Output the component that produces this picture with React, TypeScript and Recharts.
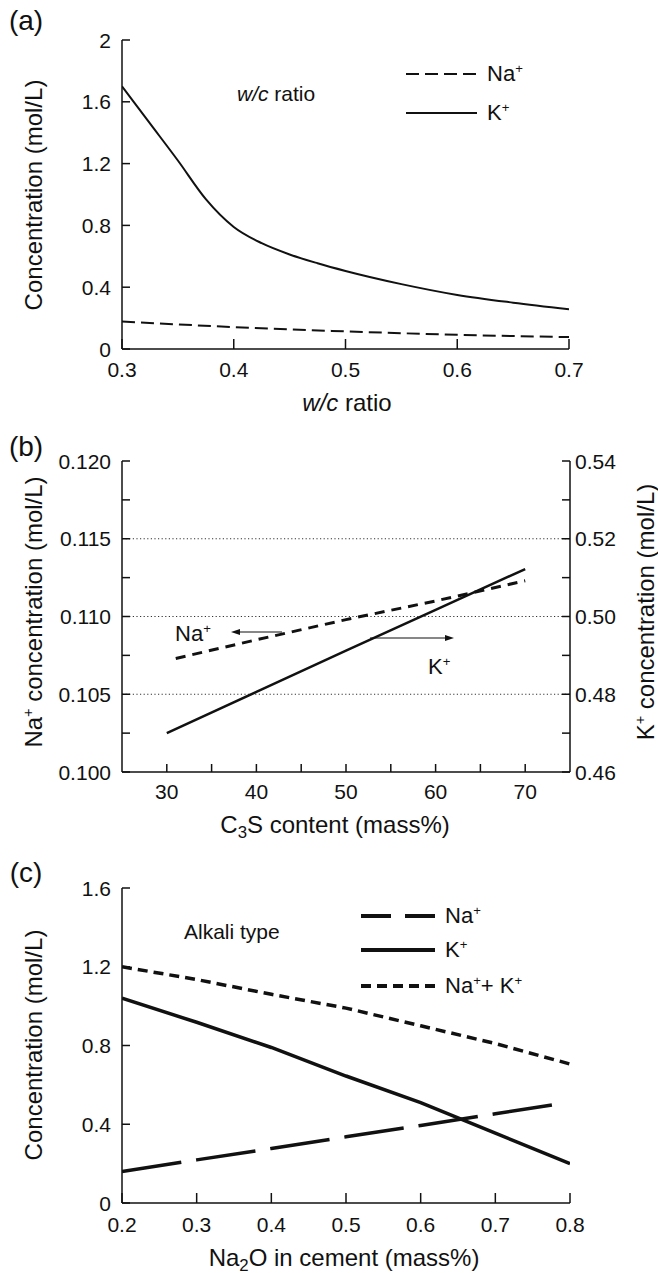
import React from 'react'
import { LineChart, Line, XAxis, YAxis, ReferenceLine } from 'recharts'

const FONT = '"Liberation Sans", Arial, Helvetica, sans-serif'
const INK = '#111'

// (a) w/c ratio
const wcRatio = [0.3, 0.325, 0.35, 0.375, 0.4, 0.425, 0.45, 0.475, 0.5, 0.55, 0.6, 0.65, 0.7]
const wcK = [1.7, 1.46, 1.22, 0.97, 0.79, 0.685, 0.612, 0.555, 0.505, 0.42, 0.35, 0.3, 0.258]
const wcNaRatio = [0.3, 0.4, 0.5, 0.6, 0.7]
const wcNa = [0.178, 0.142, 0.114, 0.092, 0.077]
const wcTicksX = [0.3, 0.4, 0.5, 0.6, 0.7]
const wcTicksY = [0, 0.4, 0.8, 1.2, 1.6, 2]

// (b) C3S content
const c3s = [30, 40, 50, 60, 70]
const c3sK = [0.47, 0.4806, 0.4912, 0.5017, 0.5122]
const c3sNaX = [31, 40, 50, 60, 70]
const c3sNa = [0.1073, 0.1085, 0.1098, 0.111, 0.1123]
const c3sTicks = [30, 35, 40, 45, 50, 55, 60, 65, 70]
const naTicks = [0.1, 0.1025, 0.105, 0.1075, 0.11, 0.1125, 0.115, 0.1175, 0.12]
const kTicks = [0.46, 0.47, 0.48, 0.49, 0.5, 0.51, 0.52, 0.53, 0.54]
const naGrid = [0.105, 0.11, 0.115]

// (c) Na2O in cement
const na2o = [0.2, 0.3, 0.4, 0.5, 0.6, 0.7, 0.8]
const na2oK = [1.04, 0.918, 0.79, 0.645, 0.51, 0.355, 0.2]
const na2oSum = [1.2, 1.135, 1.06, 0.99, 0.9, 0.81, 0.706]
const na2oNaX = [0.2, 0.3, 0.4, 0.5, 0.6, 0.7, 0.78]
const na2oNa = [0.16, 0.219, 0.277, 0.336, 0.394, 0.453, 0.5]
const na2oTicksY = [0, 0.4, 0.8, 1.2, 1.6]

const pts = (xs: number[], ys: number[]) => xs.map((x, i) => ({ x, y: ys[i] }))

const AX = { stroke: INK, strokeWidth: 1.5 }
const TICK_FS = 21
const f1 = (v: number) => (v === 0 || v === 2 ? String(v) : v.toFixed(1))

// inward tick mark + label; m is the gap recharts leaves between axis line and label
function inward(side: 'bottom' | 'left' | 'right', m: number, len: number, fmt: (v: number) => string) {
  return (p: any) => {
    const { x, y, payload } = p
    const label = fmt(payload.value)
    const txt = { fontSize: TICK_FS, fill: INK, fontFamily: FONT }
    if (side === 'bottom') {
      const ay = y - m
      return (
        <g>
          <line x1={x} x2={x} y1={ay} y2={ay - len} stroke={INK} strokeWidth={1.5} />
          <text x={x} y={y} dy="0.71em" textAnchor="middle" {...txt}>{label}</text>
        </g>
      )
    }
    if (side === 'left') {
      const ax = x + m
      return (
        <g>
          <line x1={ax} x2={ax + len} y1={y} y2={y} stroke={INK} strokeWidth={1.5} />
          <text x={x} y={y} dy="0.36em" textAnchor="end" {...txt}>{label}</text>
        </g>
      )
    }
    const ax = x - m
    return (
      <g>
        <line x1={ax} x2={ax - len} y1={y} y2={y} stroke={INK} strokeWidth={1.5} />
        <text x={x} y={y} dy="0.36em" textAnchor="start" {...txt}>{label}</text>
      </g>
    )
  }
}

const Sup = ({ children }: { children: React.ReactNode }) => (
  <span style={{ fontSize: '0.6em', verticalAlign: '0.6em', lineHeight: 0 }}>{children}</span>
)
const Sub = ({ children }: { children: React.ReactNode }) => (
  <span style={{ fontSize: '0.7em', verticalAlign: '-0.3em', lineHeight: 0 }}>{children}</span>
)

function Txt({ x, y, size = 22, center, rotate, children }: any) {
  let tf = 'translateY(-50%)'
  if (center) tf = 'translate(-50%, -50%)'
  if (rotate) tf = 'translate(-50%, -50%) rotate(-90deg)'
  return (
    <div style={{ position: 'absolute', left: x, top: y, transform: tf, fontSize: size, lineHeight: 1, whiteSpace: 'nowrap' }}>
      {children}
    </div>
  )
}

function Sample({ x1, x2, y, dash, w }: any) {
  return (
    <svg style={{ position: 'absolute', left: x1, top: y - 5 }} width={x2 - x1} height={10}>
      <line x1={0} x2={x2 - x1} y1={5} y2={5} stroke={INK} strokeWidth={w} strokeDasharray={dash} />
    </svg>
  )
}

function PanelA() {
  return (
    <LineChart width={658} height={420} margin={{ top: 40, right: 89, bottom: 41, left: 62 }}>
      <XAxis type="number" dataKey="x" domain={[0.3, 0.7]} ticks={wcTicksX} interval={0}
        tickSize={0} tickMargin={13} height={30} axisLine={AX} tickLine={false}
        tick={inward('bottom', 13, 10, f1)} allowDataOverflow />
      <XAxis xAxisId="top" orientation="top" type="number" domain={[0, 1]} height={0} tick={false} tickLine={false} axisLine={AX} />
      <YAxis type="number" domain={[0, 2]} ticks={wcTicksY} interval={0}
        tickSize={0} tickMargin={11} width={60} axisLine={AX} tickLine={false}
        tick={inward('left', 11, 8, f1)} allowDataOverflow />
      <YAxis yAxisId="r" orientation="right" type="number" domain={[0, 1]} width={0} tick={false} tickLine={false} axisLine={AX} />
      <Line data={pts(wcRatio, wcK)} dataKey="y" type="monotone" stroke={INK} strokeWidth={2} dot={false} isAnimationActive={false} />
      <Line data={pts(wcNaRatio, wcNa)} dataKey="y" type="monotone" stroke={INK} strokeWidth={2} strokeDasharray="13 6" dot={false} isAnimationActive={false} />
    </LineChart>
  )
}

function PanelB() {
  const fx = (v: number) => (v % 10 === 0 ? String(v) : '')
  const fna = (v: number) => (Math.abs(v * 200 - Math.round(v * 200)) < 1e-6 ? v.toFixed(3) : '')
  const fk = (v: number) => (Math.abs(v * 50 - Math.round(v * 50)) < 1e-6 ? v.toFixed(2) : '')
  return (
    <LineChart width={658} height={420} margin={{ top: 41, right: 28, bottom: 38, left: 62 }}>
      <XAxis type="number" dataKey="x" domain={[25, 75]} ticks={c3sTicks} interval={0}
        tickSize={0} tickMargin={12} height={30} axisLine={AX} tickLine={false}
        tick={inward('bottom', 12, 8, fx)} allowDataOverflow />
      <XAxis xAxisId="top" orientation="top" type="number" domain={[0, 1]} height={0} tick={false} tickLine={false} axisLine={AX} />
      <YAxis yAxisId="na" type="number" domain={[0.1, 0.12]} ticks={naTicks} interval={0}
        tickSize={0} tickMargin={11} width={60} axisLine={AX} tickLine={false}
        tick={inward('left', 11, 8, fna)} allowDataOverflow />
      <YAxis yAxisId="k" orientation="right" type="number" domain={[0.46, 0.54]} ticks={kTicks} interval={0}
        tickSize={0} tickMargin={5} width={60} axisLine={AX} tickLine={false}
        tick={inward('right', 5, 8, fk)} allowDataOverflow />
      {naGrid.map(v => (
        <ReferenceLine key={v} yAxisId="na" y={v} stroke="#333" strokeWidth={1} strokeDasharray="1.2 2.4" />
      ))}
      <Line yAxisId="k" data={pts(c3s, c3sK)} dataKey="y" type="linear" stroke={INK} strokeWidth={2.5} dot={false} isAnimationActive={false} />
      <Line yAxisId="na" data={pts(c3sNaX, c3sNa)} dataKey="y" type="linear" stroke={INK} strokeWidth={3} strokeDasharray="10 7" dot={false} isAnimationActive={false} />
    </LineChart>
  )
}

function PanelC() {
  const fy = (v: number) => (v === 0 ? '0' : v.toFixed(1))
  return (
    <LineChart width={658} height={433} margin={{ top: 48, right: 88, bottom: 40, left: 62 }}>
      <XAxis type="number" dataKey="x" domain={[0.2, 0.8]} ticks={na2o} interval={0}
        tickSize={0} tickMargin={14} height={30} axisLine={AX} tickLine={false}
        tick={inward('bottom', 14, 10, (v: number) => v.toFixed(1))} allowDataOverflow />
      <XAxis xAxisId="top" orientation="top" type="number" domain={[0, 1]} height={0} tick={false} tickLine={false} axisLine={AX} />
      <YAxis type="number" domain={[0, 1.6]} ticks={na2oTicksY} interval={0}
        tickSize={0} tickMargin={11} width={60} axisLine={AX} tickLine={false}
        tick={inward('left', 11, 8, fy)} allowDataOverflow />
      <YAxis yAxisId="r" orientation="right" type="number" domain={[0, 1]} width={0} tick={false} tickLine={false} axisLine={AX} />
      <Line data={pts(na2o, na2oSum)} dataKey="y" type="linear" stroke={INK} strokeWidth={3.5} strokeDasharray="10 6" dot={false} isAnimationActive={false} />
      <Line data={pts(na2o, na2oK)} dataKey="y" type="linear" stroke={INK} strokeWidth={3.5} dot={false} isAnimationActive={false} />
      <Line data={pts(na2oNaX, na2oNa)} dataKey="y" type="linear" stroke={INK} strokeWidth={3.5} strokeDasharray="60 15" dot={false} isAnimationActive={false} />
    </LineChart>
  )
}

export default function App() {
  return (
    <div style={{ position: 'absolute', left: 0, top: 0, width: 658, height: 1273, background: '#fff', fontFamily: FONT, color: INK }}>
      <div style={{ position: 'absolute', left: 0, top: 0 }}><PanelA /></div>
      <div style={{ position: 'absolute', left: 0, top: 420 }}><PanelB /></div>
      <div style={{ position: 'absolute', left: 0, top: 840 }}><PanelC /></div>

      {/* panel (a) texts */}
      <Txt x={26} y={21} size={28} center>(a)</Txt>
      <Txt x={34} y={195} size={24} rotate>Concentration (mol/L)</Txt>
      <Txt x={347} y={403} size={24} center><i>w/c</i> ratio</Txt>
      <Txt x={237} y={93} size={21}><i>w/c</i> ratio</Txt>
      <Sample x1={406} x2={477} y={74} w={2} dash="13 6" />
      <Txt x={487} y={74} size={22}>Na<Sup>+</Sup></Txt>
      <Sample x1={406} x2={477} y={113} w={2} />
      <Txt x={487} y={113} size={22}>K<Sup>+</Sup></Txt>

      {/* panel (b) texts */}
      <Txt x={26} y={447} size={28} center>(b)</Txt>
      <Txt x={34} y={612} size={24} rotate>Na<Sup>+</Sup> concentration (mol/L)</Txt>
      <Txt x={646} y={612} size={24} rotate>K<Sup>+</Sup> concentration (mol/L)</Txt>
      <Txt x={335} y={825} size={24} center>C<Sub>3</Sub>S content (mass%)</Txt>
      <Txt x={175} y={634} size={22}>Na<Sup>+</Sup></Txt>
      <Txt x={428} y={667} size={22}>K<Sup>+</Sup></Txt>
      <svg style={{ position: 'absolute', left: 0, top: 0, pointerEvents: 'none' }} width={658} height={1273}>
        <line x1={282} y1={632} x2={238} y2={632} stroke={INK} strokeWidth={1.2} />
        <polygon points="231,632 240,629 240,635" fill={INK} />
        <line x1={370} y1={638} x2={446} y2={638} stroke={INK} strokeWidth={1.2} />
        <polygon points="454,638 445,635 445,641" fill={INK} />
      </svg>

      {/* panel (c) texts */}
      <Txt x={26} y={873} size={28} center>(c)</Txt>
      <Txt x={34} y={1045} size={24} rotate>Concentration (mol/L)</Txt>
      <Txt x={344} y={1258} size={24} center>Na<Sub>2</Sub>O in cement (mass%)</Txt>
      <Txt x={184} y={931} size={21}>Alkali type</Txt>
      <Sample x1={361} x2={435} y={916} w={4} dash="30 14" />
      <Txt x={445} y={916} size={22}>Na<Sup>+</Sup></Txt>
      <Sample x1={361} x2={435} y={950} w={4} />
      <Txt x={445} y={950} size={22}>K<Sup>+</Sup></Txt>
      <Sample x1={361} x2={435} y={986} w={4} dash="10 6" />
      <Txt x={445} y={986} size={22}>Na<Sup>+</Sup>+ K<Sup>+</Sup></Txt>
    </div>
  )
}
